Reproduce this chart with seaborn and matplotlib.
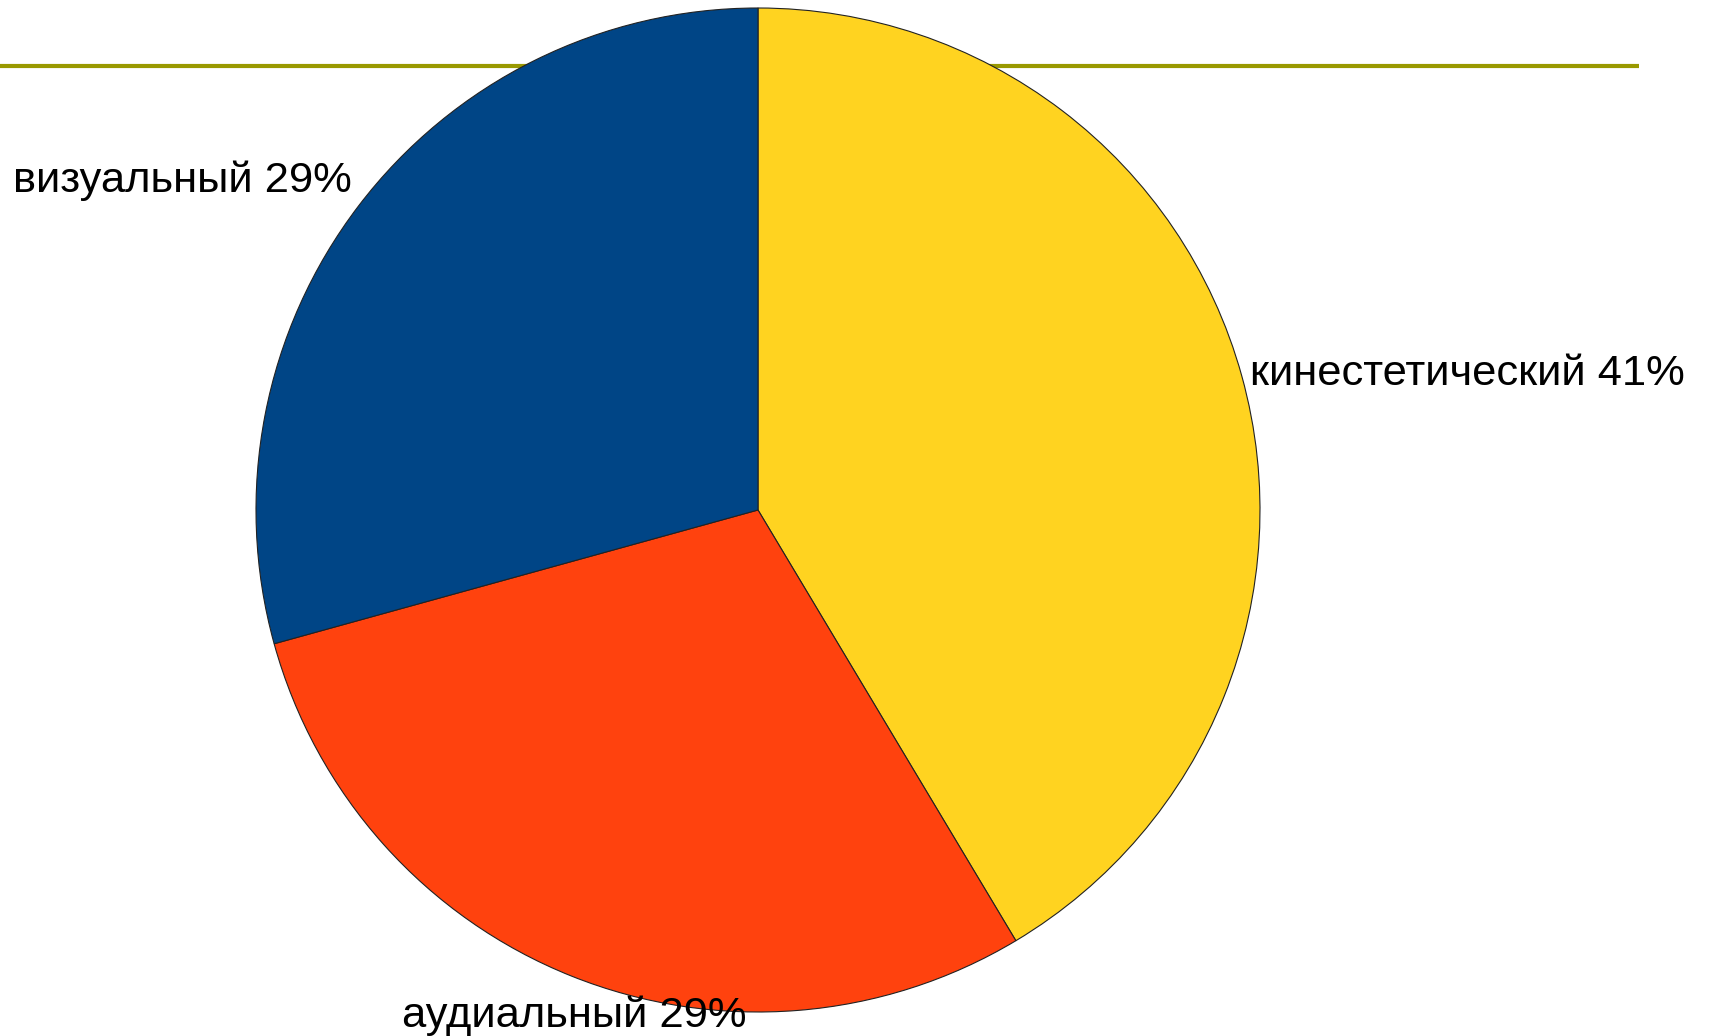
import seaborn as sns
import matplotlib.pyplot as plt

labels = ["кинестетический", "аудиальный", "визуальный"]
values = [41, 29, 29]
pcts = ["41%", "29%", "29%"]
colors = ["#FFD320", "#FF420E", "#004586"]

sns.set_style("white")
plt.rcParams['font.family'] = ['Liberation Sans', 'DejaVu Sans']

fig = plt.figure(figsize=(17.1, 10.36), dpi=100)
ax = fig.add_axes([0, 0, 1, 1])

# olive rule behind the pie
ax.plot([0, 1639], [970, 970], color="#999900", lw=3, zorder=1, solid_capstyle='butt')

ax.pie(values, colors=colors, startangle=90, counterclock=False,
       center=(758, 526), radius=502, frame=True,
       wedgeprops=dict(edgecolor="#222222", linewidth=0.8, zorder=2))
ax.set_xlim(0, 1710)
ax.set_ylim(0, 1036)
ax.axis('off')

# label spots (left, baseline) in pixels
spots = [(1250, 651), (402, 9), (13, 844)]
for lab, p, (x, y) in zip(labels, pcts, spots):
    ax.text(x, y, f"{lab} {p}", ha='left', va='baseline', fontsize=31.3,
            color='black', zorder=5)

fig.savefig("out.png", dpi=100)
